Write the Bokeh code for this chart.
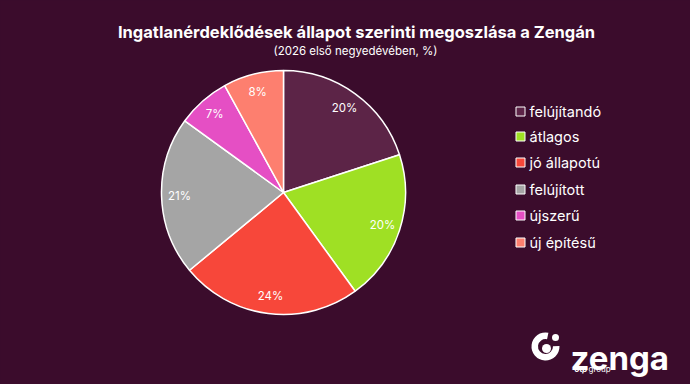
import math
from bokeh.plotting import figure
from bokeh.models import ColumnDataSource, Range1d
from bokeh.core.properties import value
from bokeh.embed import file_html
from bokeh.resources import INLINE

categories = ["felújítandó", "átlagos", "jó állapotú", "felújított", "újszerű", "új építésű"]
values = [20, 20, 24, 21, 7, 8]
colors = ["#5c2447", "#9fe024", "#f7473a", "#a5a5a5", "#e54fc4", "#fd7f6f"]
title = "Ingatlanérdeklődések állapot szerinti megoszlása a Zengán"
subtitle = "(2026 első negyedévében, %)"

BG = "#3b0c2c"
FONT = "Inter"
W, H = 690, 384


def px(X, Y):
    return X, H - Y


p = figure(width=W, height=H, x_range=Range1d(0, W), y_range=Range1d(0, H),
           output_backend="svg", toolbar_location=None, min_border=0,
           x_axis_location=None, y_axis_location=None,
           background_fill_color=BG, border_fill_color=BG, outline_line_color=None)
p.grid.visible = False

# pie
cx, cy = px(283, 192)
r = 122
total = float(sum(values))
starts, ends, lx, ly, labels = [], [], [], [], []
cum = 0.0
for v in values:
    before = cum / total
    cum += v
    after = cum / total
    s = math.pi / 2 - 2 * math.pi * after
    e = math.pi / 2 - 2 * math.pi * before
    m = (s + e) / 2
    starts.append(s)
    ends.append(e)
    lx.append(cx + 104 * math.cos(m))
    ly.append(cy + 104 * math.sin(m))
    labels.append(f"{v}%")

src = ColumnDataSource(dict(start=starts, end=ends, color=colors, lx=lx, ly=ly, label=labels, cat=categories))
p.wedge(x=cx, y=cy, radius=r, start_angle="start", end_angle="end", direction="anticlock",
        fill_color="color", line_color="white", line_width=1.5, source=src)
p.text(x="lx", y="ly", text="label", source=src, text_color="white", text_font=value(FONT),
       text_font_size="11.5px", text_align="center", text_baseline="middle")

# title
tx, ty = px(356, 31)
p.text(x=[tx], y=[ty], text=[title], text_color="white", text_font=value(FONT), text_font_style="bold",
       text_font_size="16.5px", text_align="center", text_baseline="middle")
sx, sy = px(355, 50)
p.text(x=[sx], y=[sy], text=[subtitle], text_color="white", text_font=value(FONT),
       text_font_size="11.5px", text_align="center", text_baseline="middle")

# legend
leg_y = [111, 136, 162, 189, 215, 242]
sq_x = [px(520, y)[0] for y in leg_y]
sq_y = [px(520, y)[1] for y in leg_y]
t_x = [px(529, y)[0] for y in leg_y]
leg = ColumnDataSource(dict(sx=sq_x, sy=sq_y, tx=t_x, color=colors, cat=categories))
p.rect(x="sx", y="sy", width=9, height=9, fill_color="color", line_color="white", line_width=1, source=leg)
p.text(x="tx", y="sy", text="cat", source=leg, text_color="white", text_font=value(FONT),
       text_font_size="14.5px", text_align="left", text_baseline="middle")

# logo
lcx, lcy = px(545, 346)
p.annular_wedge(x=lcx, y=lcy, inner_radius=7.5, outer_radius=14,
                start_angle=math.radians(78), end_angle=math.radians(362),
                direction="anticlock", fill_color="white", line_color=None)
dx, dy = px(546, 348)
p.circle(x=[dx], y=[dy], radius=4.5, fill_color="white", line_color=None)
ex, ey = px(555, 337)
p.circle(x=[ex], y=[ey], radius=3.5, fill_color="white", line_color=None)
zx, zy = px(570, 357)
p.text(x=[zx], y=[zy], text=["zenga"], text_color="white", text_font=value(FONT), text_font_style="bold",
       text_font_size="33px", text_align="left", text_baseline="alphabetic")
ox, oy = px(574, 368)
p.text(x=[ox], y=[oy], text=["otp"], text_color="white", text_font=value(FONT),
       text_font_style="bold italic", text_font_size="8px", text_align="left", text_baseline="alphabetic")
gx, gy = px(588, 368)
p.text(x=[gx], y=[gy], text=["group"], text_color="white", text_font=value(FONT),
       text_font_size="8px", text_align="left", text_baseline="alphabetic")

html = file_html(p, INLINE)
html = html.replace("<head>", "<head><style>html,body{background:%s;}</style>" % BG, 1)
open("out.html", "w").write(html)
